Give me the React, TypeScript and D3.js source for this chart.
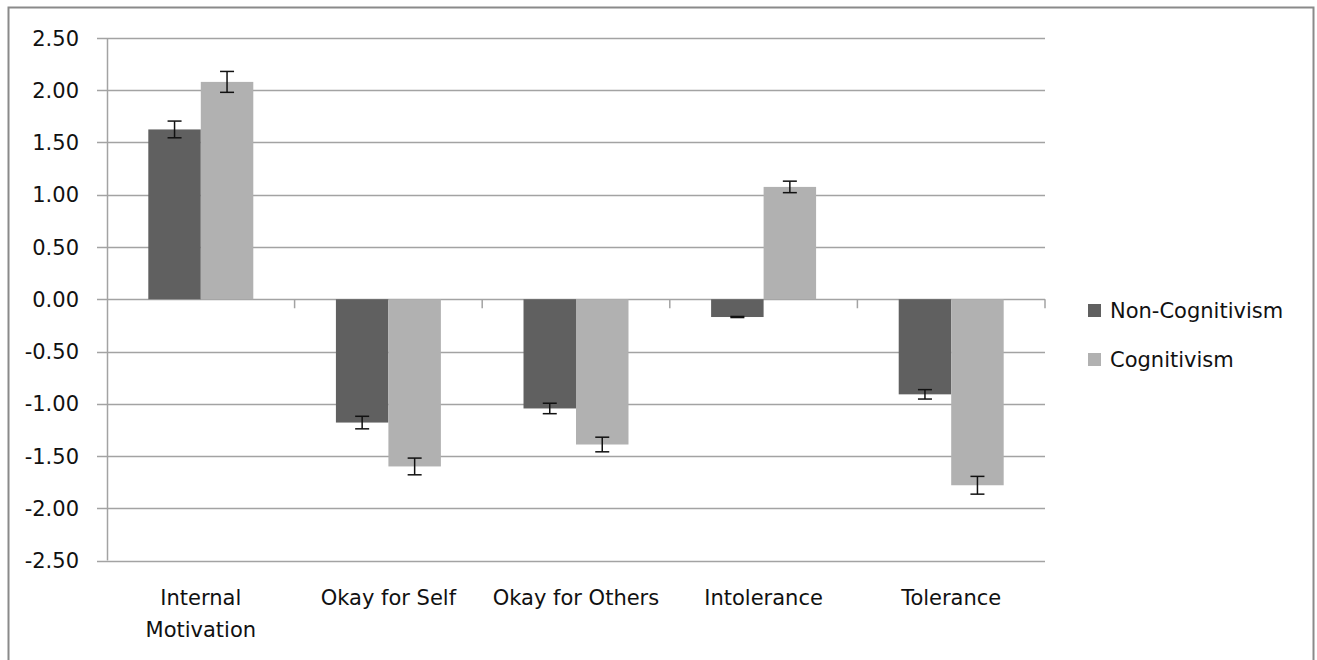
import React from "react";
import * as d3 from "d3";

const categories = ["Internal Motivation", "Okay for Self", "Okay for Others", "Intolerance", "Tolerance"];
const categoryLines = [["Internal", "Motivation"], ["Okay for Self"], ["Okay for Others"], ["Intolerance"], ["Tolerance"]];
const seriesNames = ["Non-Cognitivism", "Cognitivism"];
const nonCognitivism = [1.625, -1.18, -1.045, -0.17, -0.91];
const cognitivism = [2.08, -1.6, -1.39, 1.075, -1.78];
const nonCognitivismErr = [0.08, 0.06, 0.05, 0.005, 0.045];
const cognitivismErr = [0.1, 0.08, 0.07, 0.055, 0.085];
const yTicks = [2.5, 2.0, 1.5, 1.0, 0.5, 0.0, -0.5, -1.0, -1.5, -2.0, -2.5];
const seriesColors = ["#606060", "#b1b1b1"];

export default function App() {
  const W = 1317, H = 660;
  const left = 107, right = 1045, top = 38, bottom = 560.5;
  const y = d3.scaleLinear().domain([-2.5, 2.5]).range([bottom, top]);
  const x0 = d3.scaleBand<string>().domain(categories).range([left, right]).paddingInner(0).paddingOuter(0);
  const x1 = d3.scaleBand<string>().domain(seriesNames).range([0, x0.bandwidth()]).paddingInner(0).paddingOuter(0.787);
  const values = [nonCognitivism, cognitivism];
  const errs = [nonCognitivismErr, cognitivismErr];
  const font = "'DejaVu Sans', sans-serif";
  const fmt = (t: number) => (Math.abs(t) < 1e-9 ? 0 : t).toFixed(2);
  const grid = "#a3a3a3";
  const y0 = y(0);
  const fs = 21;

  return (
    <svg width={W} height={H} style={{ position: "absolute", left: 0, top: 0, background: "#fff" }}>
      <rect x={8.5} y={7.5} width={1305} height={700} fill="#fff" stroke="#8a8a8a" strokeWidth={2} />
      {yTicks.map((t) => (
        <g key={t}>
          <line x1={left - 10} x2={right} y1={Math.round(y(t)) + 0.5} y2={Math.round(y(t)) + 0.5} stroke={grid} strokeWidth={1.5} />
          <text x={79} y={y(t)} dy="0.36em" textAnchor="end" fontFamily={font} fontSize={fs} fill="#111">
            {fmt(t)}
          </text>
        </g>
      ))}
      <line x1={left + 0.5} x2={left + 0.5} y1={top} y2={bottom} stroke={grid} strokeWidth={1.5} />
      {categories.map((c) => (
        <line key={c} x1={x0(c)! + x0.bandwidth()} x2={x0(c)! + x0.bandwidth()} y1={y0} y2={y0 + 9} stroke={grid} strokeWidth={1.5} />
      ))}
      {categories.map((c, i) =>
        seriesNames.map((s, j) => {
          const v = values[j][i];
          const bx = x0(c)! + x1(s)!;
          const bw = x1.bandwidth();
          const yt = Math.min(y(v), y0);
          const hh = Math.abs(y(v) - y0);
          const cx = bx + bw / 2;
          const e = errs[j][i];
          return (
            <g key={c + s}>
              <rect x={bx} y={yt} width={bw} height={hh} fill={seriesColors[j]} />
              <line x1={cx} x2={cx} y1={y(v + e)} y2={y(v - e)} stroke="#111" strokeWidth={1.5} />
              <line x1={cx - 7} x2={cx + 7} y1={y(v + e)} y2={y(v + e)} stroke="#111" strokeWidth={1.5} />
              <line x1={cx - 7} x2={cx + 7} y1={y(v - e)} y2={y(v - e)} stroke="#111" strokeWidth={1.5} />
            </g>
          );
        })
      )}
      {categories.map((c, i) => (
        <text key={c} textAnchor="middle" fontFamily={font} fontSize={fs} fill="#111">
          {categoryLines[i].map((ln, k) => (
            <tspan key={k} x={x0(c)! + x0.bandwidth() / 2} y={605 + k * 32}>{ln}</tspan>
          ))}
        </text>
      ))}
      {seriesNames.map((s, j) => (
        <g key={s}>
          <rect x={1088} y={304 + j * 49} width={13} height={13} fill={seriesColors[j]} />
          <text x={1110} y={318 + j * 49} fontFamily={font} fontSize={fs} fill="#111">{s}</text>
        </g>
      ))}
    </svg>
  );
}
